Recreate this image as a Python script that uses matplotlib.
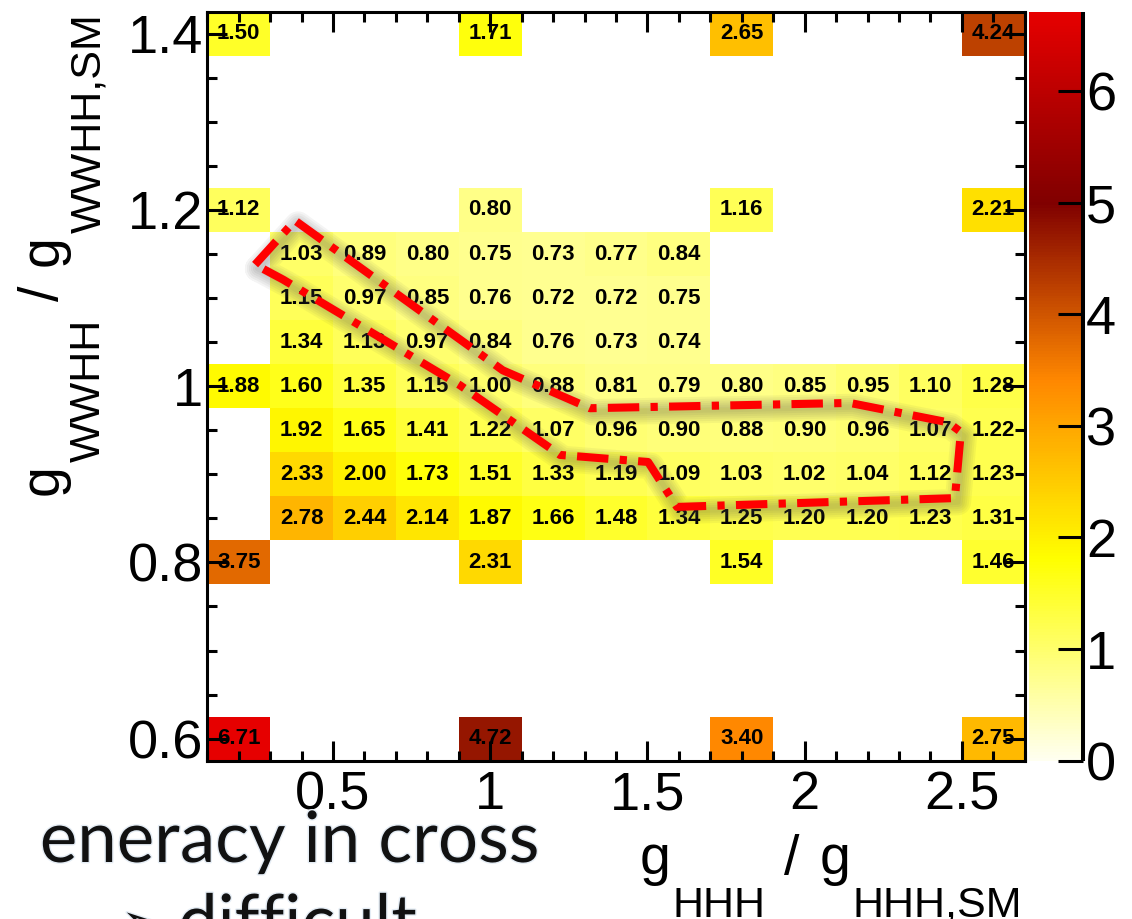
import numpy as np
import matplotlib
matplotlib.use("Agg")
import matplotlib.pyplot as plt
import matplotlib.transforms as mtransforms
import matplotlib.patheffects as pe
from matplotlib.colors import LinearSegmentedColormap
from matplotlib.ticker import MultipleLocator, FormatStrFormatter

N = np.nan

# bin centres of the scan
g_hhh = [0.2, 0.4, 0.6, 0.8, 1.0, 1.2, 1.4, 1.6, 1.8, 2.0, 2.2, 2.4, 2.6]
g_wwhh = [1.40, 1.20, 1.15, 1.10, 1.05, 1.00, 0.95, 0.90, 0.85, 0.80, 0.60]

# cross-section ratio per (g_WWHH row, g_HHH column)
ratio = [
    [1.50, N, N, N, 1.71, N, N, N, 2.65, N, N, N, 4.24],
    [1.12, N, N, N, 0.80, N, N, N, 1.16, N, N, N, 2.21],
    [N, 1.03, 0.89, 0.80, 0.75, 0.73, 0.77, 0.84, N, N, N, N, N],
    [N, 1.15, 0.97, 0.85, 0.76, 0.72, 0.72, 0.75, N, N, N, N, N],
    [N, 1.34, 1.13, 0.97, 0.84, 0.76, 0.73, 0.74, N, N, N, N, N],
    [1.88, 1.60, 1.35, 1.15, 1.00, 0.88, 0.81, 0.79, 0.80, 0.85, 0.95, 1.10, 1.28],
    [N, 1.92, 1.65, 1.41, 1.22, 1.07, 0.96, 0.90, 0.88, 0.90, 0.96, 1.07, 1.22],
    [N, 2.33, 2.00, 1.73, 1.51, 1.33, 1.19, 1.09, 1.03, 1.02, 1.04, 1.12, 1.23],
    [N, 2.78, 2.44, 2.14, 1.87, 1.66, 1.48, 1.34, 1.25, 1.20, 1.20, 1.23, 1.31],
    [3.75, N, N, N, 2.31, N, N, N, 1.54, N, N, N, 1.46],
    [6.71, N, N, N, 4.72, N, N, N, 3.40, N, N, N, 2.75],
]

# degenerate region boundary
contour_x = [0.252, 0.379, 1.040, 1.317, 2.144, 2.456, 2.497, 2.478, 1.594,
             1.502, 1.222, 0.904, 0.341, 0.252]
contour_y = [1.138, 1.188, 1.018, 0.975, 0.981, 0.959, 0.948, 0.873, 0.863,
             0.914, 0.922, 1.001, 1.121, 1.138]

dx, dy = 0.2, 0.05
x_edges = np.round(np.arange(0.1, 2.7 + dx / 2, dx), 3)
y_edges = np.round(np.arange(0.575, 1.425 + dy / 2, dy), 3)

Z = np.full((len(y_edges) - 1, len(x_edges) - 1), np.nan)
for yv, row in zip(g_wwhh, ratio):
    j = int(round((yv - y_edges[0]) / dy - 0.5))
    Z[j, :] = row
Zm = np.ma.masked_invalid(Z)

plt.rcParams["font.family"] = ["Liberation Sans", "DejaVu Sans"]

cmap = LinearSegmentedColormap.from_list(
    "heat",
    [(0.0, "#fffff0"), (1.8 / 6.71, "#ffff00"), (3.4 / 6.71, "#ff8800"),
     (5.0 / 6.71, "#800000"), (1.0, "#e60000")])

W, H = 1132, 919
fig = plt.figure(figsize=(W / 100, H / 100), dpi=100)
ax = fig.add_axes([207.3 / W, (H - 760.7) / H, 817.4 / W, 749.0 / H])

mesh = ax.pcolormesh(x_edges, y_edges, Zm, cmap=cmap, vmin=0, vmax=np.nanmax(Z),
                     zorder=1)

for yv, row in zip(g_wwhh, ratio):
    for xv, v in zip(g_hhh, row):
        if not np.isnan(v):
            ax.text(xv, yv, f"{v:.2f}", ha="center", va="center", fontsize=16,
                    fontweight="bold", color="black", zorder=2)

# soft grey shadow under the boundary
shadow_tr = mtransforms.offset_copy(ax.transData, fig=fig, x=3, y=-4, units="dots")
for lw in [4, 7, 10, 13, 16, 19]:
    ax.plot(contour_x, contour_y, color="0.3", lw=lw, alpha=0.06,
            solid_capstyle="round", solid_joinstyle="round",
            transform=shadow_tr, zorder=4)
ax.plot(contour_x, contour_y, color="#ff0000", lw=5.8,
        linestyle=(0, (3.9, 1.4, 0.9, 1.4)), dash_capstyle="butt", zorder=5)

ax.set_xlim(0.1, 2.7)
ax.set_ylim(0.575, 1.425)
ax.set_axisbelow(False)
ax.xaxis.set_major_locator(MultipleLocator(0.5))
ax.xaxis.set_minor_locator(MultipleLocator(0.1))
ax.yaxis.set_major_locator(MultipleLocator(0.2))
ax.yaxis.set_minor_locator(MultipleLocator(0.05))
ax.xaxis.set_major_formatter(FormatStrFormatter("%g"))
ax.yaxis.set_major_formatter(FormatStrFormatter("%g"))
ax.tick_params(which="both", direction="in", top=True, right=True, width=2.2,
               labelsize=39)
ax.tick_params(which="major", length=14.4)
ax.tick_params(which="minor", length=7.2)
ax.tick_params(axis="x", pad=7)
ax.tick_params(axis="y", pad=3)
for sp in ax.spines.values():
    sp.set_linewidth(2.2)

# palette axis
cax = fig.add_axes([1029 / W, (H - 760.7) / H, 54 / W, 749.0 / H])
cb = fig.colorbar(mesh, cax=cax)
cb.outline.set_visible(False)
cb.set_ticks(range(7))
cb.minorticks_off()
cax.tick_params(axis="y", direction="in", length=18, width=2.2, labelsize=39,
                pad=2, right=True, left=False)
cax.plot([1, 1], [0, 1], transform=cax.transAxes, color="black", lw=2.9,
         solid_capstyle="butt", clip_on=False)

ident = mtransforms.IdentityTransform()


def chain_text(pieces, x0, y0, vertical=False):
    # pieces: (text, size, drop below baseline in px, extra gap before in px)
    renderer = fig.canvas.get_renderer()
    pos = 0.0
    for s, size, drop, gap in pieces:
        pos += gap
        if vertical:
            t = fig.text(x0 + drop, y0 + pos, s, fontsize=size, rotation=90,
                         rotation_mode="anchor", ha="left", va="baseline",
                         transform=ident)
            pos += t.get_window_extent(renderer).height
        else:
            t = fig.text(x0 + pos, y0 - drop, s, fontsize=size, ha="left",
                         va="baseline", transform=ident)
            pos += t.get_window_extent(renderer).width


chain_text([("g", 40, 0, 0), ("HHH", 31, 43, 2), ("/", 40, 0, 18),
            ("g", 40, 0, 20), ("HHH,SM", 31, 43, 2)], 640, 45)
chain_text([("g", 40, 0, 0), ("WWHH", 31, 42, 2), ("/", 40, 0, 18),
            ("g", 40, 0, 20), ("WWHH,SM", 31, 42, 2)], 58, H - 495, vertical=True)

# slide text behind the plot
halo = [pe.withStroke(linewidth=2, foreground="#e4ecf4")]
slide_font = dict(color="#111111", transform=ident, zorder=0, path_effects=halo)
fig.text(540, H - 862, "eneracy in cross", ha="right", va="baseline",
         fontsize=51, family=["Lato", "DejaVu Sans"], **slide_font)
fig.text(120, -26, "\u27a2", ha="left", va="baseline", fontsize=44,
         family="DejaVu Sans", **slide_font)
fig.text(178, -26, "difficult", ha="left", va="baseline", fontsize=51,
         family=["Lato", "DejaVu Sans"], **slide_font)

fig.savefig("out.png", dpi=100)
